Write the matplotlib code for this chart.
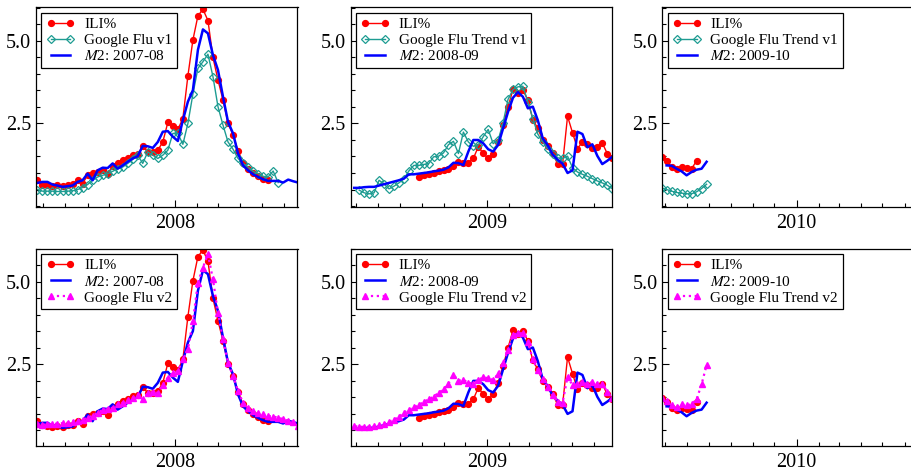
import matplotlib
matplotlib.use("Agg")
import matplotlib.pyplot as plt
import matplotlib.dates as mdates
from matplotlib.ticker import MultipleLocator, FormatStrFormatter
import pandas as pd

plt.rcParams['font.family'] = 'Liberation Serif'
plt.rcParams['mathtext.fontset'] = 'stix'

# ---- weekly series ----
# season 2007-08 (all series start the same week)
start_0708 = "2007-06-23"
ili_0708 = [0.78, 0.65, 0.63, 0.61, 0.63, 0.61, 0.65, 0.66, 0.80, 0.68,
            0.93, 1.00, 1.03, 1.08, 0.98, 1.21, 1.29, 1.39, 1.44, 1.54,
            1.57, 1.81, 1.64, 1.64, 1.69, 1.94, 2.53, 2.43, 2.32, 2.65,
            3.94, 5.03, 5.76, 5.96, 5.62, 4.50, 3.82, 3.21, 2.52, 2.15,
            1.67, 1.29, 1.13, 1.00, 0.91, 0.83, 0.78]
gft1_0708 = [0.50, 0.45, 0.45, 0.45, 0.44, 0.44, 0.45, 0.46, 0.50, 0.56,
             0.65, 0.78, 0.88, 0.93, 0.98, 1.05, 1.13, 1.18, 1.29, 1.41,
             1.54, 1.29, 1.64, 1.54, 1.44, 1.54, 1.69, 2.20, 2.20, 1.87,
             2.50, 3.39, 4.17, 4.37, 4.60, 3.92, 3.01, 2.45, 1.94, 1.72,
             1.44, 1.29, 1.18, 1.05, 0.98, 0.90, 0.88, 1.06, 0.71]
m2_0708 = [0.70, 0.73, 0.73, 0.65, 0.62, 0.58, 0.60, 0.62, 0.73, 0.78,
           0.98, 0.78, 1.08, 1.16, 1.15, 1.29, 1.13, 1.23, 1.34, 1.44,
           1.51, 1.82, 1.81, 1.76, 1.94, 2.25, 2.27, 2.10, 1.97, 2.60,
           3.16, 3.51, 4.73, 5.35, 5.23, 4.57, 4.12, 3.31, 2.55, 2.20,
           1.59, 1.23, 1.08, 0.96, 0.88, 0.81, 0.76, 0.76, 0.76, 0.71,
           0.80, 0.75, 0.71]
gft2_0708 = [0.69, 0.67, 0.69, 0.69, 0.71, 0.72, 0.74, 0.77, 0.79, 0.82,
             0.89, 0.94, 1.04, 1.12, 1.14, 1.19, 1.29, 1.34, 1.41, 1.49,
             1.56, 1.44, 1.64, 1.66, 1.64, 1.89, 2.10, 2.23, 2.30, 2.65,
             2.95, 3.81, 4.97, 5.43, 5.83, 5.07, 4.06, 3.26, 2.55, 2.15,
             1.69, 1.34, 1.19, 1.09, 1.04, 0.99, 0.94, 0.92, 0.89, 0.84,
             0.79, 0.76, 0.64]

# season 2008-09
start_ili_0809 = "2008-09-27"
start_gft1_0809 = "2008-07-05"
start_m2_0809 = "2008-06-28"
start_gft2_0809 = "2008-06-21"
ili_0809 = [0.88, 0.93, 0.96, 1.00, 1.05, 1.08, 1.13, 1.21, 1.34, 1.29,
            1.31, 1.44, 1.79, 1.60, 1.44, 1.59, 1.94, 2.45, 3.00, 3.53,
            3.41, 3.51, 3.21, 2.62, 2.35, 1.99, 1.81, 1.61, 1.27, 1.27,
            2.72, 2.22, 1.74, 1.94, 1.89, 1.77, 1.79, 1.91, 1.59, 1.46]
gft1_0809 = [0.48, 0.40, 0.37, 0.40, 0.78, 0.67, 0.52, 0.60, 0.70, 0.82,
             1.06, 1.23, 1.23, 1.26, 1.28, 1.49, 1.51, 1.61, 1.86, 1.96,
             1.59, 2.24, 1.94, 1.81, 1.85, 2.10, 2.32, 1.89, 1.99, 2.52,
             3.23, 3.53, 3.61, 3.63, 3.16, 2.65, 2.18, 1.94, 1.74, 1.59,
             1.46, 1.44, 1.51, 1.16, 1.03, 0.96, 0.90, 0.83, 0.76, 0.70,
             0.63, 0.53]
m2_0809 = [0.55, 0.55, 0.57, 0.58, 0.58, 0.62, 0.66, 0.70, 0.74, 0.78,
           0.83, 0.96, 0.96, 0.98, 1.00, 1.02, 1.05, 1.07, 1.10, 1.17,
           1.31, 1.30, 1.24, 1.65, 2.00, 2.00, 1.90, 1.72, 1.65, 1.85,
           2.35, 2.85, 3.28, 3.45, 3.31, 2.96, 3.01, 2.60, 2.05, 1.84,
           1.56, 1.40, 1.28, 1.00, 1.08, 2.25, 2.18, 1.78, 1.87, 1.52,
           1.27, 1.37, 1.49]
gft2_0809 = [0.63, 0.63, 0.61, 0.61, 0.61, 0.63, 0.66, 0.69, 0.76, 0.83,
             0.91, 1.04, 1.12, 1.20, 1.27, 1.37, 1.44, 1.52, 1.64, 1.74,
             1.92, 2.18, 2.01, 2.03, 1.94, 1.92, 2.03, 2.11, 2.08, 2.03,
             2.21, 2.53, 2.93, 3.39, 3.44, 3.44, 3.19, 2.65, 2.33, 2.05,
             1.82, 1.57, 1.37, 1.34, 2.13, 1.87, 1.90, 1.97, 1.90, 1.97,
             1.92, 1.92, 1.67, 1.47]

# season 2009-10 (only the first weeks)
start_0910 = "2009-06-26"
start_m2_0910 = "2009-07-03"
ili_0910 = [1.47, 1.37, 1.18, 1.13, 1.18, 1.15, 1.13, 1.37]
gft1_0910 = [0.55, 0.50, 0.45, 0.41, 0.39, 0.37, 0.37, 0.43, 0.53, 0.66]
m2_0910 = [1.23, 1.22, 1.13, 1.05, 0.93, 1.03, 1.10, 1.13, 1.34]
gft2_0910 = [1.47, 1.39, 1.26, 1.22, 1.29, 1.26, 1.29, 1.44, 1.90, 2.48]

x_limits = [("2007-06-21", "2008-06-20"),
            ("2008-06-23", "2009-06-27"),
            ("2009-06-27", "2010-06-28")]


def weeks(start, values):
    return pd.date_range(start, periods=len(values), freq="7D")


# line styles
red = dict(color="#ff0000", marker="o", markersize=4.2, linewidth=1.0)
teal = dict(color="#1e9c92", marker="D", markersize=3.6, markerfacecolor="none",
            markeredgewidth=0.9, linewidth=1.0)
blue = dict(color="#0000ff", linewidth=1.8)
pink = dict(color="#ff00ff", marker="^", markersize=4.2, linestyle=":", linewidth=1.6)

top_rows = [
    [(weeks(start_0708, ili_0708), ili_0708, red, "ILI%"),
     (weeks(start_0708, gft1_0708), gft1_0708, teal, "Google Flu v1"),
     (weeks(start_0708, m2_0708), m2_0708, blue, r"$\mathit{M}$2: 2007-08")],
    [(weeks(start_ili_0809, ili_0809), ili_0809, red, "ILI%"),
     (weeks(start_gft1_0809, gft1_0809), gft1_0809, teal, "Google Flu Trend v1"),
     (weeks(start_m2_0809, m2_0809), m2_0809, blue, r"$\mathit{M}$2: 2008-09")],
    [(weeks(start_0910, ili_0910), ili_0910, red, "ILI%"),
     (weeks(start_0910, gft1_0910), gft1_0910, teal, "Google Flu Trend v1"),
     (weeks(start_m2_0910, m2_0910), m2_0910, blue, r"$\mathit{M}$2: 2009-10")],
]
bottom_rows = [
    [(weeks(start_0708, ili_0708), ili_0708, red, "ILI%"),
     (weeks(start_0708, m2_0708), m2_0708, blue, r"$\mathit{M}$2: 2007-08"),
     (weeks(start_0708, gft2_0708), gft2_0708, pink, "Google Flu v2")],
    [(weeks(start_ili_0809, ili_0809), ili_0809, red, "ILI%"),
     (weeks(start_m2_0809, m2_0809), m2_0809, blue, r"$\mathit{M}$2: 2008-09"),
     (weeks(start_gft2_0809, gft2_0809), gft2_0809, pink, "Google Flu Trend v2")],
    [(weeks(start_0910, ili_0910), ili_0910, red, "ILI%"),
     (weeks(start_m2_0910, m2_0910), m2_0910, blue, r"$\mathit{M}$2: 2009-10"),
     (weeks(start_0910, gft2_0910), gft2_0910, pink, "Google Flu Trend v2")],
]

fig = plt.figure(figsize=(9.12, 4.72), dpi=100)
W, H = 912.0, 472.0
lefts = [36, 350.7, 662.3]
rows = [(top_rows, 265.0, 199.7, (-0.03, 6.02)),
        (bottom_rows, 25.7, 197.6, (0.02, 6.0))]

for series_row, bottom, height, ylim in rows:
    for i, series in enumerate(series_row):
        ax = fig.add_axes([lefts[i] / W, bottom / H, 261.5 / W, height / H])
        for x, y, style, label in series:
            ax.plot(x, y, label=label, **style)

        ax.set_xlim(pd.Timestamp(x_limits[i][0]), pd.Timestamp(x_limits[i][1]))
        ax.set_ylim(*ylim)
        ax.xaxis.set_major_locator(mdates.YearLocator())
        ax.xaxis.set_minor_locator(mdates.MonthLocator())
        ax.xaxis.set_major_formatter(mdates.DateFormatter("%Y"))
        ax.set_yticks([2.5, 5.0])
        ax.yaxis.set_major_formatter(FormatStrFormatter("%.1f"))
        ax.yaxis.set_minor_locator(MultipleLocator(0.5))
        ax.tick_params(which="both", direction="in", top=False, right=False,
                       labelsize=14.5, width=0.8)
        ax.tick_params(which="major", length=5)
        ax.tick_params(which="minor", length=3)
        ax.tick_params(axis="x", pad=5)
        for sp in ax.spines.values():
            sp.set_linewidth(0.9)

        leg = ax.legend(loc="upper left", fontsize=11, numpoints=2, fancybox=False,
                        framealpha=1, edgecolor="black", borderaxespad=0.35,
                        borderpad=0.3, handlelength=1.9, handletextpad=0.6,
                        labelspacing=0.15)
        leg.get_frame().set_linewidth(0.9)

fig.savefig("out.png", dpi=100)
